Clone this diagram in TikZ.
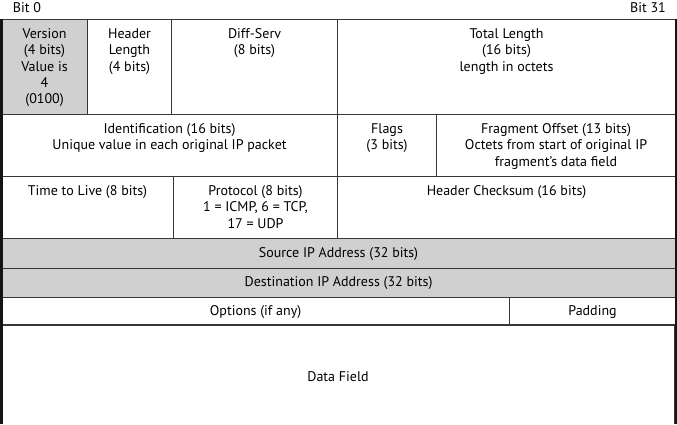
\documentclass[tikz,border=0pt]{standalone}
\usepackage{fontspec}
\setmainfont{PT Sans}
\definecolor{cellgray}{RGB}{208,208,208}
\definecolor{linegray}{RGB}{55,55,55}
\definecolor{inkgray}{RGB}{20,20,20}
\begin{document}
\begin{tikzpicture}[x=1pt,y=-1pt,
  cell/.style={draw=linegray, line width=1.1pt, inner sep=0pt, anchor=north west},
  shaded/.style={cell, fill=cellgray},
  txt/.style={inner sep=0pt, align=center, text=black, font=\fontsize{14}{16.3}\selectfont},
  toptxt/.style={txt, anchor=north, yshift=-9.5pt},
]
\useasboundingbox (0,0) rectangle (677,424);
% header labels
\node[txt] (bit0) at (27,8) {Bit 0};
\node[txt] (bit31) at (648,8) {Bit 31};
% row 1
\node[shaded, minimum width=86pt, minimum height=95pt] (ver) at (1,19) {};
\node[cell, minimum width=84pt, minimum height=95pt] (hl) at (87,19) {};
\node[cell, minimum width=166pt, minimum height=95pt] (ds) at (171,19) {};
\node[cell, minimum width=338pt, minimum height=95pt] (tl) at (337,19) {};
\node[toptxt] (ver-t) at (ver.north) {Version\\(4 bits)\\Value is\\4\\(0100)};
\node[toptxt] (hl-t) at (hl.north) {Header\\Length\\(4 bits)};
\node[toptxt] (ds-t) at (ds.north) {Diff-Serv\\(8 bits)};
\node[toptxt] (tl-t) at (tl.north) {Total Length\\(16 bits)\\length in octets};
% row 2
\node[cell, minimum width=336pt, minimum height=62pt] (id) at (1,114) {};
\node[cell, minimum width=99pt, minimum height=62pt] (fl) at (337,114) {};
\node[cell, minimum width=239pt, minimum height=62pt] (fo) at (436,114) {};
\node[toptxt] (id-t) at (id.north) {Identification (16 bits)\\Unique value in each original IP packet};
\node[toptxt] (fl-t) at (fl.north) {Flags\\(3 bits)};
\node[toptxt] (fo-t) at (fo.north) {Fragment Offset (13 bits)\\Octets from start of original IP\\fragment's data field};
% row 3
\node[cell, minimum width=172pt, minimum height=62pt] (ttl) at (1,176) {};
\node[cell, minimum width=164pt, minimum height=62pt] (pr) at (173,176) {};
\node[cell, minimum width=338pt, minimum height=62pt] (hc) at (337,176) {};
\node[toptxt] (ttl-t) at (ttl.north) {Time to Live (8 bits)};
\node[toptxt] (pr-t) at (pr.north) {Protocol (8 bits)\\1 = ICMP, 6 = TCP,\\17 = UDP};
\node[toptxt] (hc-t) at (hc.north) {Header Checksum (16 bits)};
% rows 4-5
\node[shaded, minimum width=674pt, minimum height=30pt] (src) at (1,238) {};
\node[txt] (src-t) at (src.center) {Source IP Address (32 bits)};
\node[shaded, minimum width=674pt, minimum height=29pt] (dst) at (1,268) {};
\node[txt] (dst-t) at (dst.center) {Destination IP Address (32 bits)};
% row 6
\node[cell, minimum width=508pt, minimum height=28pt] (opt) at (1,297) {};
\node[cell, minimum width=166pt, minimum height=28pt] (pad) at (509,297) {};
\node[txt] (opt-t) at (opt.center) {Options (if any)};
\node[txt] (pad-t) at (pad.center) {Padding};
% row 7
\coordinate (dtl) at (1,325);
\coordinate (dtr) at (675,325);
\coordinate (dbl) at (1,424);
\coordinate (dbr) at (675,424);
\draw[draw=linegray, line width=1.1pt] (dbl) -- (dtl) -- (dtr) -- (dbr);
\node[txt] (data-t) at (338,377) {Data Field};
% thick outer sides
\draw[line width=2.6pt, draw=inkgray] (1.3,18.5) -- (1.3,424);
\draw[line width=2pt, draw=inkgray] (675.5,18.5) -- (675.5,424);
\end{tikzpicture}
\end{document}
